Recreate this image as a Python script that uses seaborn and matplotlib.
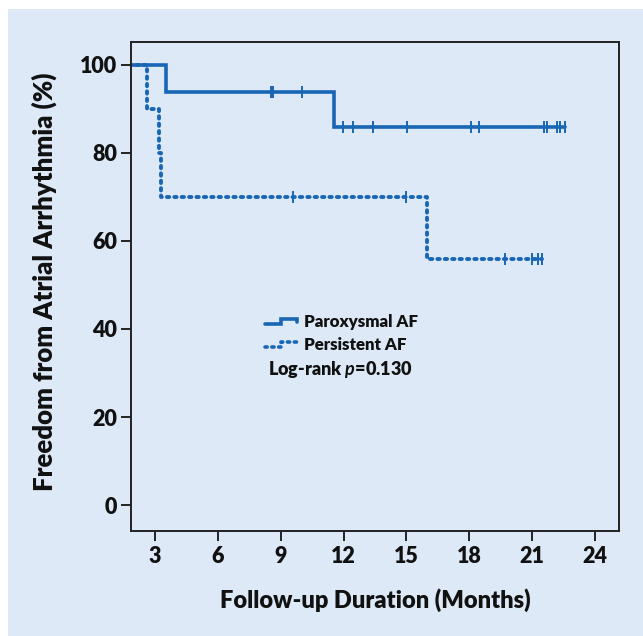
import numpy as np
import pandas as pd
import matplotlib
matplotlib.use("Agg")
import matplotlib.pyplot as plt
import seaborn as sns
from matplotlib.lines import Line2D
from matplotlib.legend_handler import HandlerBase
from matplotlib.patches import Rectangle

# ---- data ----
parox_times = [0, 3.5, 11.55, 22.57]
parox_surv = [100, 93.75, 85.94, 85.94]
parox_censor = [8.52, 8.65, 10.03, 11.99, 12.47, 13.39, 15.04, 18.07, 18.47,
                21.57, 21.73, 22.17, 22.33, 22.57]

persist_times = [0, 2.6, 3.21, 3.29, 15.97, 21.46]
persist_surv = [100, 90, 80, 70, 56, 56]
persist_censor = [9.60, 14.98, 19.71, 20.98, 21.30, 21.46]

groups = ["Paroxysmal AF", "Persistent AF"]
x_ticks = [3, 6, 9, 12, 15, 18, 21, 24]
y_ticks = [0, 20, 40, 60, 80, 100]
p_text = "Log-rank $p$=0.130"

BLUE = "#1866b4"
BG = "#dde9f7"
INK = "#111111"

sns.set_style("white")
plt.rcParams["font.family"] = ["Lato", "DejaVu Sans"]
plt.rcParams["font.weight"] = "bold"
plt.rcParams["text.color"] = INK
plt.rcParams["axes.labelcolor"] = INK
plt.rcParams["xtick.color"] = INK
plt.rcParams["ytick.color"] = INK
plt.rcParams["mathtext.fontset"] = "custom"
plt.rcParams["mathtext.it"] = "Lato:italic:bold"
plt.rcParams["mathtext.rm"] = "Lato:bold"


def surv_at(times, surv, t):
    idx = np.searchsorted(times, t, side="right") - 1
    return np.asarray(surv)[idx]


curve_df = pd.concat([
    pd.DataFrame({"t": parox_times, "s": parox_surv, "g": groups[0]}),
    pd.DataFrame({"t": persist_times, "s": persist_surv, "g": groups[1]}),
])
cens_df = pd.concat([
    pd.DataFrame({"t": parox_censor,
                  "s": surv_at(parox_times, parox_surv, parox_censor), "g": groups[0]}),
    pd.DataFrame({"t": persist_censor,
                  "s": surv_at(persist_times, persist_surv, persist_censor), "g": groups[1]}),
])

fig = plt.figure(figsize=(6.43, 6.36), dpi=100)
fig.patch.set_facecolor("white")
fig.patches.append(Rectangle((8 / 643, 0), 1 - 8 / 643, 1 - 9 / 636,
                             transform=fig.transFigure, facecolor=BG,
                             edgecolor="none", zorder=-10))
ax = fig.add_axes([131 / 643, 1 - 531 / 636, (619 - 131) / 643, (531 - 42) / 636])
ax.set_facecolor(BG)

DOT = (0, (0.6, 1.3))
styles = {groups[0]: "-", groups[1]: DOT}
for g in groups:
    d = curve_df[curve_df.g == g]
    sns.lineplot(data=d, x="t", y="s", ax=ax, color=BLUE, drawstyle="steps-post",
                 linewidth=2.6 if g == groups[0] else 2.8, linestyle=styles[g],
                 dash_capstyle="round", solid_joinstyle="miter",
                 estimator=None, sort=False, legend=False)
    c = cens_df[cens_df.g == g]
    sns.scatterplot(data=c, x="t", y="s", ax=ax, marker="|", s=70, color=BLUE,
                    linewidth=1.4, legend=False, zorder=5)

ax.set_xlim(1.85, 25.15)
ax.set_ylim(-5.9, 105.2)
ax.set_xticks(x_ticks)
ax.set_yticks(y_ticks)
ax.tick_params(axis="both", direction="out", length=7, width=1.4, color="#222222",
               labelsize=15.5, pad=3, bottom=True, left=True)
ax.tick_params(axis="x", pad=4)
for lab in ax.get_xticklabels() + ax.get_yticklabels():
    lab.set_fontweight("heavy")
for sp in ax.spines.values():
    sp.set_color("#222222")
    sp.set_linewidth(1.4)

ax.set_xlabel("Follow-up Duration (Months)", fontsize=17, fontweight="heavy", labelpad=15)
ax.set_ylabel("Freedom from Atrial Arrhythmia (%)", fontsize=18.5, fontweight="heavy",
              labelpad=13)
ax.yaxis.set_label_coords(-0.152, 0.51)


class StepHandler(HandlerBase):
    def __init__(self, ls, lw):
        super().__init__()
        self.ls = ls
        self.lw = lw

    def create_artists(self, legend, orig_handle, xdescent, ydescent, width, height,
                       fontsize, trans):
        xs = np.array([0, 0.5, 0.5, 1.0, 1.0]) * width - xdescent
        ys = np.array([0.25, 0.25, 0.65, 0.65, 0.35]) * height - ydescent
        ln = Line2D(xs, ys, color=BLUE, lw=self.lw, linestyle=self.ls,
                    dash_capstyle="round", solid_joinstyle="miter")
        ln.set_transform(trans)
        return [ln]


h1 = Line2D([], [])
h2 = Line2D([], [])
leg = ax.legend([h1, h2], groups, loc="upper left", bbox_to_anchor=(0.258, 0.462),
                frameon=False, borderpad=0, handlelength=1.85, handletextpad=0.4,
                labelspacing=0.42, prop={"family": "Lato", "weight": "heavy", "size": 12.2},
                handler_map={h1: StepHandler("-", 2.6), h2: StepHandler(DOT, 2.6)})
for t in leg.get_texts():
    t.set_color(INK)
ax.text(0.43, 0.331, p_text, transform=ax.transAxes, ha="center", va="center",
        fontsize=13, fontweight="heavy")

fig.savefig("out.png", dpi=100, facecolor=fig.get_facecolor())
